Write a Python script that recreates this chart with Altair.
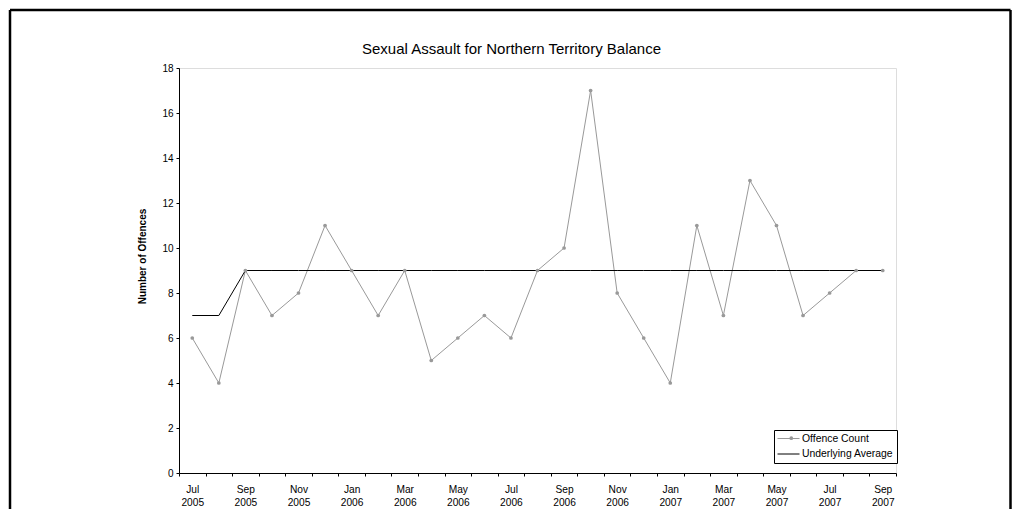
import altair as alt
import pandas as pd

months = ['Jul', 'Aug', 'Sep', 'Oct', 'Nov', 'Dec',
          'Jan', 'Feb', 'Mar', 'Apr', 'May', 'Jun', 'Jul', 'Aug', 'Sep', 'Oct', 'Nov', 'Dec',
          'Jan', 'Feb', 'Mar', 'Apr', 'May', 'Jun', 'Jul', 'Aug', 'Sep']
years = ['2005'] * 6 + ['2006'] * 12 + ['2007'] * 9
offence_count = [6, 4, 9, 7, 8, 11, 9, 7, 9, 5, 6, 7, 6, 9, 10, 17, 8, 6, 4, 11, 7, 13, 11, 7, 8, 9, 9]
underlying_avg = [7, 7, 9, 9, 9, 9, 9, 9, 9, 9, 9, 9, 9, 9, 9, 9, 9, 9, 9, 9, 9, 9, 9, 9, 9, 9, 9]
series_names = ['Offence Count', 'Underlying Average']
series_colors = ['#999999', '#000000']
y_ticks = [0, 2, 4, 6, 8, 10, 12, 14, 16, 18]

n = len(months)
rows = []
for i in range(n):
    rows.append({'pos': i + 0.5, 'value': offence_count[i], 'series': series_names[0]})
    rows.append({'pos': i + 0.5, 'value': underlying_avg[i], 'series': series_names[1]})
df = pd.DataFrame(rows)
df['marker'] = df['series']

FONT = 'Liberation Sans'
W, H = 717, 405
PAD_L, PAD_T = 171, 60

label_positions = [i + 0.5 for i in range(0, n, 2)]
month_arr = '[' + ','.join("'%s'" % m for m in months) + ']'
year_arr = '[' + ','.join("'%s'" % y for y in years) + ']'

x_scale = alt.Scale(domain=[0, n], nice=False, zero=False)
y_scale = alt.Scale(domain=[0, 18], nice=False)

tick_axis = alt.Axis(
    orient='bottom', values=list(range(n + 1)), labels=False,
    tickSize=3, tickColor='black', domainColor='black', grid=False, title=None,
)


def label_axis(arr, pad):
    return alt.Axis(
        orient='bottom', values=label_positions,
        labelExpr=arr + '[floor(datum.value)]',
        labelOverlap=False, labelFlush=False, labelBound=False,
        ticks=False, tickSize=0, domain=False, grid=False,
        labelFont=FONT, labelFontSize=10.2, labelColor='black', labelPadding=pad,
        labelBaseline='top', title=None,
    )


y_axis = alt.Axis(
    values=y_ticks, tickSize=3, tickColor='black', domainColor='black', grid=False,
    labelFont=FONT, labelFontSize=10, labelColor='black', labelPadding=3,
    title='Number of Offences', titleFont=FONT, titleFontSize=10, titleFontWeight='bold',
    titleColor='black', titlePadding=14, titleY=188,
)

LX, LY = 595, 362
line_legend = alt.Legend(
    orient='none', legendX=LX, legendY=LY, title=None,
    strokeColor='black', fillColor='white', padding=3,
    labelFont=FONT, labelFontSize=10.4, labelColor='black', labelOffset=14,
    symbolType='M-1,0H3.4', symbolSize=100, symbolStrokeWidth=1, rowPadding=4.5,
    zindex=0,
)
dot_legend = alt.Legend(
    orient='none', legendX=LX, legendY=LY, title=None, padding=3,
    labelFont=FONT, labelFontSize=10.4, labelColor='transparent', labelOffset=14,
    symbolSize=14, symbolOffset=9.1, rowPadding=4.5, zindex=1,
)

base = alt.Chart(df)

lines = base.mark_line(strokeWidth=1).encode(
    x=alt.X('pos:Q', scale=x_scale, axis=tick_axis),
    y=alt.Y('value:Q', scale=y_scale, axis=y_axis),
    color=alt.Color('series:N', scale=alt.Scale(domain=series_names, range=series_colors),
                    legend=line_legend),
)

offence = base.transform_filter(alt.datum.series == series_names[0])

points = offence.mark_point(
    filled=True, size=14, color='#999999', opacity=1
).encode(
    x=alt.X('pos:Q', axis=label_axis(month_arr, 11)),
    y='value:Q',
    shape=alt.Shape('marker:N', scale=alt.Scale(domain=[series_names[0]], range=['circle']),
                    legend=dot_legend),
)

year_layer = offence.mark_point(opacity=0).encode(
    x=alt.X('pos:Q', axis=label_axis(year_arr, 24)),
    y='value:Q',
)

frame_src = pd.DataFrame({'k': [0]})
fx0, fx1, fy0, fy1 = 10 - 179, 1010.5 - 179, 10 - 68, 470
frame_top = alt.Chart(frame_src).mark_rule(color='black', strokeWidth=2.5).encode(
    x=alt.value(fx0), x2=alt.value(fx1), y=alt.value(fy0))
frame_left = alt.Chart(frame_src).mark_rule(color='black', strokeWidth=2.5).encode(
    x=alt.value(fx0), y=alt.value(fy0), y2=alt.value(fy1))
frame_right = alt.Chart(frame_src).mark_rule(color='black', strokeWidth=2.5).encode(
    x=alt.value(fx1), y=alt.value(fy0), y2=alt.value(fy1))

chart = alt.layer(lines, points, year_layer, frame_top, frame_left, frame_right).resolve_axis(
    x='independent'
).properties(
    width=W, height=H,
    title=alt.TitleParams('Sexual Assault for Northern Territory Balance', font=FONT,
                          fontSize=15, fontWeight='normal', color='black',
                          anchor='middle', frame='group', baseline='alphabetic',
                          offset=0, dx=-26, dy=60),
    autosize=alt.AutoSizeParams(type='none'),
    padding={'left': PAD_L, 'top': PAD_T, 'right': 116, 'bottom': 36},
).configure_view(stroke=None).configure(background='white')

chart.save('out.html', embed_options={'renderer': 'svg', 'actions': False})
